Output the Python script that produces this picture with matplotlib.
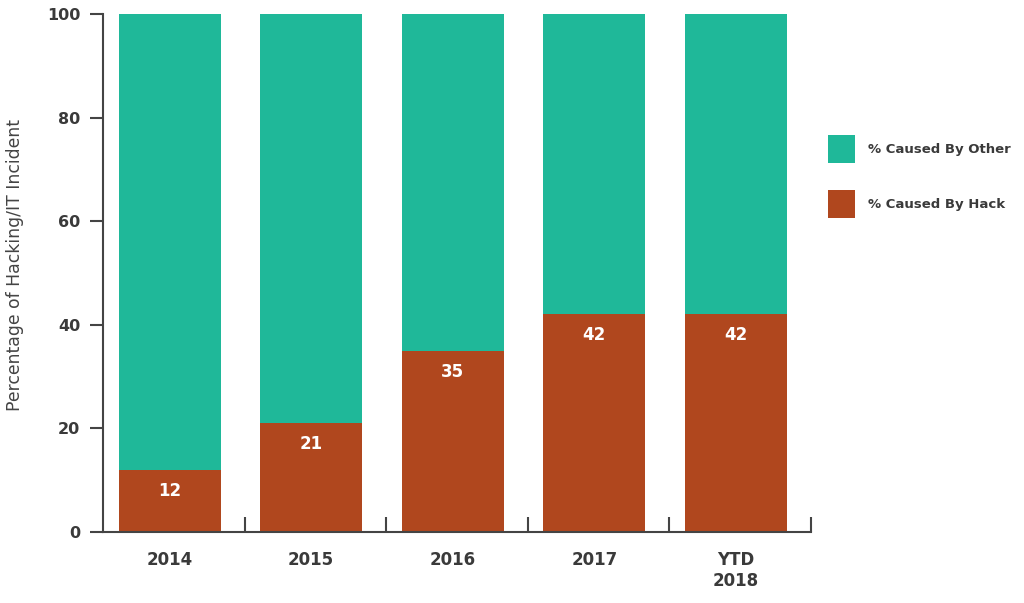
import matplotlib
matplotlib.use("Agg")
import matplotlib.pyplot as plt
import numpy as np

categories = ["2014", "2015", "2016", "2017", "YTD\n2018"]
hack = [12, 21, 35, 42, 42]
other = [100 - h for h in hack]
series_names = ["% Caused By Other", "% Caused By Hack"]

c_other = "#1fb899"
c_hack = "#b0471e"
dark = "#3a3a3a"

fig = plt.figure(figsize=(10.24, 6.03), dpi=100)
ax = fig.add_axes([103/1024, 1 - 532/603, (811-103)/1024, (532-14)/603])

x = np.arange(len(categories))
w = 0.72
shift = -0.03
b_hack = ax.bar(x + shift, hack, w, color=c_hack, label=series_names[1], zorder=2)
b_other = ax.bar(x + shift, other, w, bottom=hack, color=c_other, label=series_names[0], zorder=2)

for xi, h in zip(x, hack):
    ax.annotate(str(h), (xi + shift, h), xytext=(0, -15), textcoords="offset points",
                ha="center", va="center", color="white", fontsize=12, fontweight="bold")

ax.set_xlim(-0.5, len(categories) - 0.5)
ax.set_ylim(0, 100)
ax.set_yticks([0, 20, 40, 60, 80, 100])
ax.set_xticks(x + shift)
ax.set_xticklabels(categories, fontsize=12, fontweight="bold", color=dark, linespacing=1.2)
ax.set_xticks(np.arange(len(categories)) + 0.5, minor=True)
ax.tick_params(axis="x", which="major", length=0, pad=14)
ax.tick_params(axis="x", which="minor", direction="in", length=11, width=1.5, color="#444444")
ax.tick_params(axis="y", which="major", direction="out", length=9.5, width=1.5, color="#444444",
               pad=7, labelsize=11.5, labelcolor=dark)
for lab in ax.get_yticklabels():
    lab.set_fontweight("bold")

for s in ["top", "right"]:
    ax.spines[s].set_visible(False)
for s in ["left", "bottom"]:
    ax.spines[s].set_linewidth(1.5)
    ax.spines[s].set_color("#444444")

ax.set_ylabel("Percentage of Hacking/IT Incident", fontsize=12.4, color="#444444")
ax.yaxis.set_label_coords(-0.1116, 0.515)

handles = [b_other, b_hack]
leg = fig.legend(handles, series_names, loc="upper left", bbox_to_anchor=(816/1024, 1 - 123/603),
                 frameon=False, fontsize=9.5, handlelength=2.05, handleheight=2.85,
                 labelspacing=2.1, handletextpad=1.0)
for t in leg.get_texts():
    t.set_color(dark)
    t.set_fontweight("semibold")

fig.savefig("out.png", dpi=100)
